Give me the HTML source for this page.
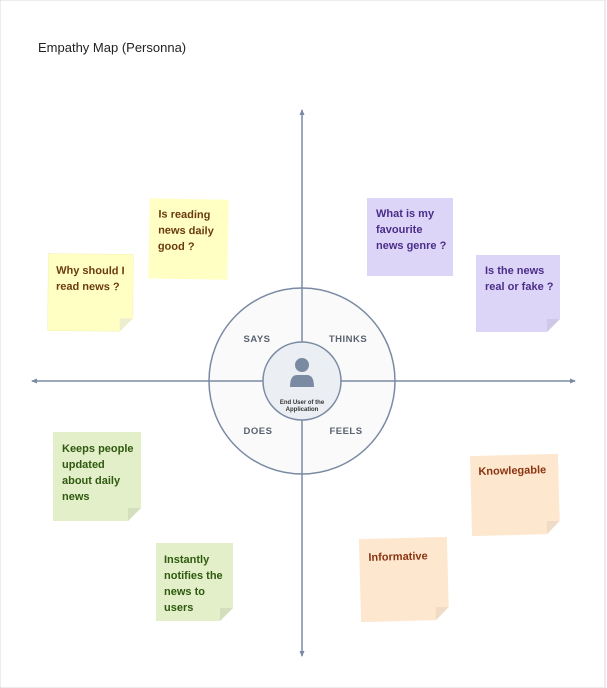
<!DOCTYPE html>
<html><head><meta charset="utf-8"><style>
html,body{margin:0;padding:0;background:#fff;width:607px;height:688px;overflow:hidden}
svg{display:block}
text{font-family:"Liberation Sans",sans-serif}
.n{font-size:11px;font-weight:bold}
</style></head><body>
<svg width="607" height="688" viewBox="0 0 607 688">
<rect x="0" y="0" width="605" height="688" fill="#fff" stroke="#d8d8d8" stroke-width="1"/>
<text x="38" y="52" font-size="13" fill="#222">Empathy Map (Personna)</text>
<defs><marker id="a" markerWidth="6" markerHeight="6" refX="5" refY="3" orient="auto" markerUnits="userSpaceOnUse"><path d="M0,0.5 L6,3 L0,5.5 z" fill="#7a8aa3"/></marker></defs>
<line x1="302" y1="381" x2="302" y2="110" stroke="#7a8aa3" stroke-width="1.5" marker-end="url(#a)"/>
<line x1="302" y1="381" x2="302" y2="656" stroke="#7a8aa3" stroke-width="1.5" marker-end="url(#a)"/>
<line x1="302" y1="381" x2="32" y2="381" stroke="#7a8aa3" stroke-width="1.5" marker-end="url(#a)"/>
<line x1="302" y1="381" x2="575" y2="381" stroke="#7a8aa3" stroke-width="1.5" marker-end="url(#a)"/>
<circle cx="302" cy="381" r="93" fill="#fafafa" stroke="#7a8aa3" stroke-width="1.5"/>
<line x1="302" y1="288" x2="302" y2="474" stroke="#7a8aa3" stroke-width="1.5"/>
<line x1="209" y1="381" x2="395" y2="381" stroke="#7a8aa3" stroke-width="1.5"/>
<circle cx="302" cy="381" r="39" fill="#ebeef3" stroke="#7a8aa3" stroke-width="1.5"/>
<circle cx="302" cy="365" r="7" fill="#7a8aa3"/>
<path d="M290,387 Q290,375 297,375 L307,375 Q314,375 314,387 z" fill="#7a8aa3"/>
<text x="302" y="404" font-size="6" font-weight="bold" text-anchor="middle" fill="#333">End User of the</text>
<text x="302" y="411" font-size="6" font-weight="bold" text-anchor="middle" fill="#333">Application</text>
<g font-size="9.5" font-weight="bold" fill="#5a6270" text-anchor="middle" letter-spacing="0.5">
<text x="257" y="342">SAYS</text><text x="348" y="342">THINKS</text>
<text x="258" y="434">DOES</text><text x="346" y="434">FEELS</text></g>

<g transform="rotate(0.5 90 292)"><path d="M48,254 H133 V318 L120,331 H48 z" fill="#ffffc4" stroke="#f0f0b0" stroke-width="0.5"/><path d="M133,318 L120,318 L120,331 z" fill="#ededd0"/>
<text class="n" x="56" y="274" fill="#6b3a10">Why should I</text><text class="n" x="56" y="290" fill="#6b3a10">read news ?</text></g>
<g transform="rotate(1 188 239)"><rect x="149" y="199" width="79" height="80" fill="#ffffc4"/>
<text class="n" x="158" y="218" fill="#6b3a10">Is reading</text><text class="n" x="158" y="234" fill="#6b3a10">news daily</text><text class="n" x="158" y="250" fill="#6b3a10">good ?</text></g>

<rect x="367" y="198" width="86" height="78" fill="#ddd5f7"/>
<text class="n" x="376" y="217" fill="#4b2d8a">What is my</text><text class="n" x="376" y="233" fill="#4b2d8a">favourite</text><text class="n" x="376" y="249" fill="#4b2d8a">news genre ?</text>
<path d="M476,255 H560 V319 L547,332 H476 z" fill="#ddd5f7"/><path d="M560,319 L547,319 L547,332 z" fill="#cfc8e6"/>
<text class="n" x="485" y="274" fill="#4b2d8a">Is the news</text><text class="n" x="485" y="290" fill="#4b2d8a">real or fake ?</text>

<path d="M53,432 H141 V508 L128,521 H53 z" fill="#e2efc8"/><path d="M141,508 L128,508 L128,521 z" fill="#d3dfbc"/>
<text class="n" x="62" y="452" fill="#2f5a10">Keeps people</text><text class="n" x="62" y="468" fill="#2f5a10">updated</text><text class="n" x="62" y="484" fill="#2f5a10">about daily</text><text class="n" x="62" y="500" fill="#2f5a10">news</text>
<path d="M156,543 H233 V608 L220,621 H156 z" fill="#e2efc8"/><path d="M233,608 L220,608 L220,621 z" fill="#d3dfbc"/>
<text class="n" x="164" y="563" fill="#2f5a10">Instantly</text><text class="n" x="164" y="579" fill="#2f5a10">notifies the</text><text class="n" x="164" y="595" fill="#2f5a10">news to</text><text class="n" x="164" y="611" fill="#2f5a10">users</text>

<g transform="rotate(-1.5 515 495)"><path d="M471,455 H559 V522 L546,535 H471 z" fill="#fde7cf"/><path d="M559,522 L546,522 L546,535 z" fill="#f0dcc6"/>
<text class="n" x="479" y="474" fill="#8a3410">Knowlegable</text></g>
<g transform="rotate(-1.5 404 580)"><path d="M360,538 H448 V608 L435,621 H360 z" fill="#fde7cf"/><path d="M448,608 L435,608 L435,621 z" fill="#f0dcc6"/>
<text class="n" x="369" y="560" fill="#8a3410">Informative</text></g>
</svg>
</body></html>
